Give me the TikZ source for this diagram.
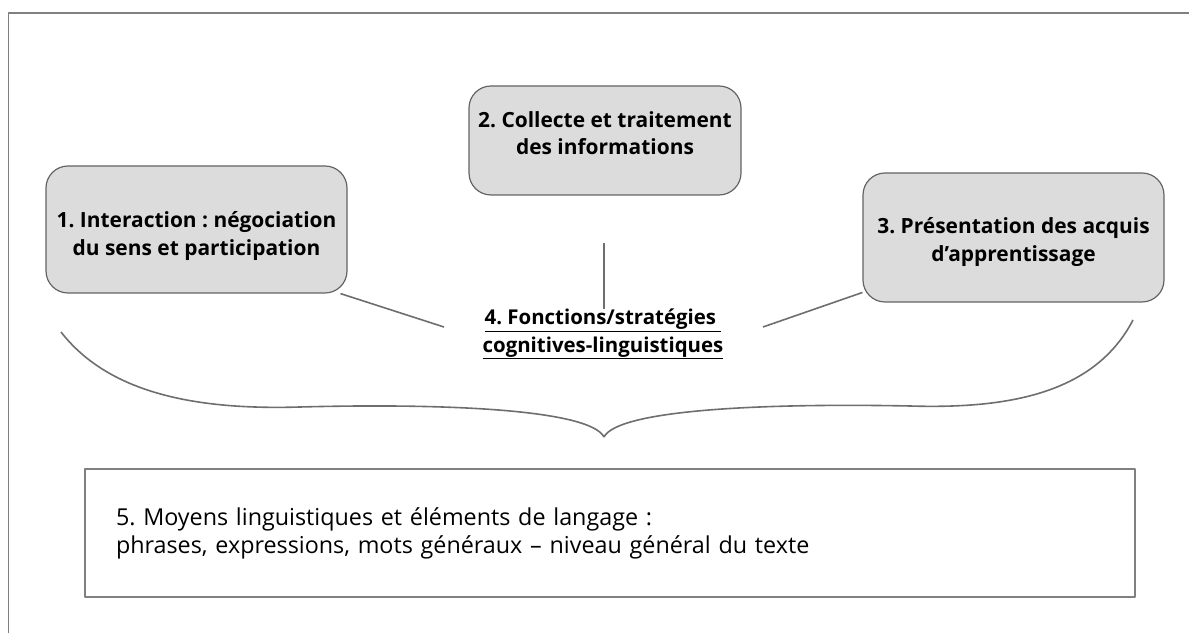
\documentclass[tikz,border=0pt]{standalone}
\usepackage{fontspec}
\setmainfont{Open Sans}
\frenchspacing
\definecolor{framegray}{RGB}{128,128,128}
\definecolor{linegray}{RGB}{110,110,110}
\definecolor{boxfill}{RGB}{220,220,220}
\definecolor{boxline}{RGB}{100,100,100}
\tikzset{
  stagebox/.style={draw=boxline,line width=1.2bp,fill=boxfill,rounded corners=22bp,align=center,font=\fontsize{21}{28}\selectfont\bfseries,inner sep=0pt},
  meansbox/.style={draw=framegray,line width=1.6bp,align=left,font=\fontsize{23.4}{28}\selectfont,inner sep=0pt},
  link/.style={linegray,line width=1.6bp},
}
\begin{document}
\begin{tikzpicture}[>=latex,line join=bevel,]
\useasboundingbox (0bp,0bp) rectangle (1189bp,633bp);
%% frame
\draw [framegray,line width=1.8bp] (8.5bp,-5bp) -- (8.5bp,620bp) -- (1200bp,620bp);
%%
\node (interaction) at (196.5bp,403.5bp) [stagebox,minimum width=301bp,minimum height=127bp] {1. Interaction : négociation\\du sens et participation\\[-36bp]};
  \node (collecte) at (605bp,492.5bp) [stagebox,minimum width=272bp,minimum height=109bp] {2. Collecte et traitement\\des informations\\[-13bp]};
  \node (presentation) at (1013.5bp,395.5bp) [stagebox,minimum width=301bp,minimum height=129bp] {3. Présentation des acquis\\d'apprentissage\\[-32bp]};
  \node (fonctions) at (603bp,299bp) [draw=none,align=center,font=\fontsize{20.5}{28}\selectfont\bfseries,inner sep=0pt] {\underline{4. Fonctions/stratégies\ }\\\underline{cognitives-linguistiques}};
  \node (moyens) at (610bp,100bp) [meansbox,minimum width=1050bp,minimum height=128bp,text width=988bp] {5. Moyens linguistiques et éléments de langage :\\phrases, expressions, mots généraux – niveau général du texte\\[-20bp]};
%%
\coordinate (tip) at (604bp,196bp);
  \coordinate (top4) at (604bp,390bp);
  \coordinate (left4) at (444bp,306bp);
  \coordinate (right4) at (763bp,306bp);
  \coordinate (braceL) at (61bp,301bp);
  \coordinate (braceR) at (1133bp,313bp);
  \draw [link] (top4) -- (fonctions.north -| top4) ++(0bp,-2bp);
  \draw [link] (interaction.-24) -- (left4);
  \draw [link] (presentation.200) -- (right4);
  \draw [link] (braceL) ..controls (110bp,238bp) and (200bp,223bp)  .. (300bp,226bp) ..controls (450bp,230bp) and (590bp,223bp)  .. (tip);
  \draw [link] (tip) ..controls (618bp,223bp) and (760bp,230bp)  .. (910bp,227bp) ..controls (1010bp,224bp) and (1095bp,240bp)  .. (braceR);
%
\end{tikzpicture}
\end{document}
